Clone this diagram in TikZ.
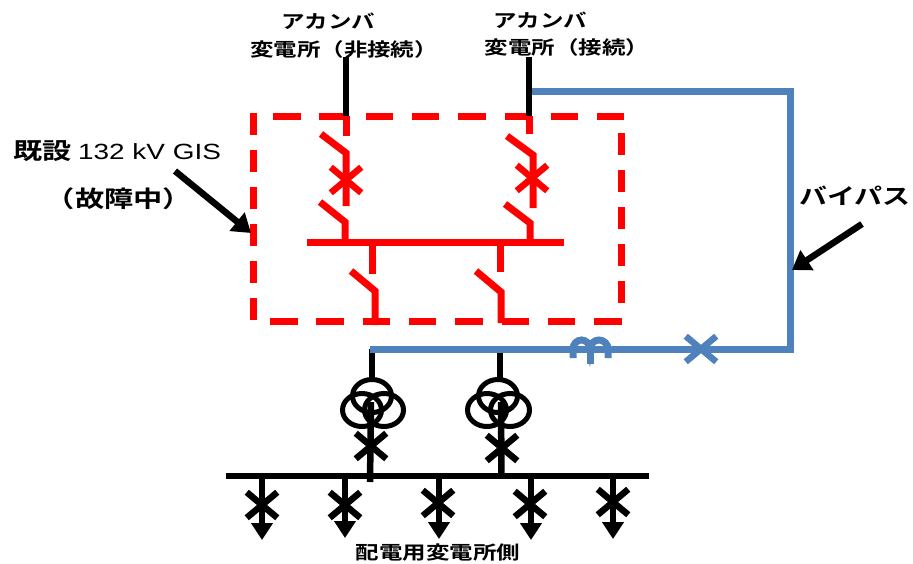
\documentclass[tikz,border=0pt]{standalone}
\usepackage{fontspec}
\newfontfamily\jpfont[FakeStretch=1.27,BoldFont={Noto Sans CJK JP Bold}]{Noto Sans CJK JP}
\newfontfamily\latinfont[FakeStretch=1.27]{Liberation Sans}
\usetikzlibrary{arrows.meta,positioning,shapes.geometric,shapes.misc}

\tikzset{
    redline/.style = {draw=red, line width=7pt},
    blackline/.style = {draw=black, line width=6.5pt},
    blueline/.style = {draw=bluepass, line width=7pt},
    redtop/.style = {redline, dash pattern=on 27.5pt off 18.8pt},
    redside/.style = {redline, dash pattern=on 22pt off 15pt},
    breaker/.style = {cross out, draw, line width=6.5pt, inner sep=0pt, minimum width=24pt, minimum height=19pt},
    winding/.style = {ellipse, draw=black, line width=5pt, inner sep=0pt, minimum width=39pt, minimum height=33pt},
    smalltext/.style = {font=\jpfont\bfseries\fontsize{18.5}{20}\selectfont, inner sep=0pt},
    bigtext/.style = {font=\jpfont\bfseries\fontsize{22}{24}\selectfont, inner sep=0pt},
    feeder/.style = {blackline, -{Triangle[width=21pt,length=17pt]}},
    pointer/.style = {blackline, -{Triangle[width=23pt,length=18pt]}}
}
\definecolor{bluepass}{RGB}{79,129,189}

\begin{document}
\begin{tikzpicture}[x=1pt, y=-1pt]
    \useasboundingbox (0,0) rectangle (913,563);

    % labels
    \node (akanL) [smalltext] at (328,21) {アカンバ};
    \node (akanR) [smalltext] at (540,20) {アカンバ};
    \node (subL) [smalltext] at (344,49) {変電所（非接続）};
    \node (subR) [smalltext] at (567,47) {変電所（接続）};
    \node (gis) [bigtext] at (117,151) {\fontsize{23}{24}\selectfont 既設 {\latinfont\mdseries\fontsize{22}{24}\selectfont 132 kV GIS}};
    \node (fault) [bigtext] at (119,199) {\fontsize{23}{24}\selectfont （故障中）};
    \node (bypass) [bigtext] at (855,196) {バイパス};
    \node (dist) [smalltext] at (438,553) {配電用変電所側};

    % dashed box
    \coordinate (tl) at (273,116);
    \coordinate (tr) at (624,116);
    \coordinate (lt) at (253,113);
    \coordinate (lb) at (253,323);
    \coordinate (bl) at (270,321);
    \coordinate (br) at (622,321);
    \coordinate (rt) at (621,133);
    \coordinate (rb) at (621,306);
    \path [redtop] (tl) -- (tr);
    \path [redtop] (bl) -- (br);
    \path [redside] (lt) -- (lb);
    \path [redside] (rt) -- (rb);

    % upper bays
    \coordinate (inL) at (346,57);
    \coordinate (inR) at (529,57);
    \coordinate (boxL) at (346,116);
    \coordinate (boxR) at (529,116);
    \path [blackline] (inL) -- (boxL);
    \path [blackline] (inR) -- (boxR);
    \coordinate (stubL) at (346,136);
    \coordinate (stubR) at (529,134);
    \path [redline] (boxL) -- (stubL);
    \path [redline] (boxR) -- (stubR);
    \coordinate (bladeL) at (321,134);
    \coordinate (hingeL) at (346,153);
    \coordinate (endL) at (346,206);
    \coordinate (bladeR) at (507,136);
    \coordinate (hingeR) at (533,155);
    \coordinate (endR) at (533,208);
    \path [redline] (bladeL) -- (hingeL) -- (endL);
    \path [redline] (bladeR) -- (hingeR) -- (endR);
    \node (cbL) [breaker, draw=red] at (346,180) {};
    \node (cbR) [breaker, draw=red] at (532,178) {};
    \coordinate (lowL) at (320,202);
    \coordinate (lowHingeL) at (345,222);
    \coordinate (lowEndL) at (345,242);
    \coordinate (lowR) at (505,204);
    \coordinate (lowHingeR) at (530,223);
    \coordinate (lowEndR) at (530,242);
    \path [redline] (lowL) -- (lowHingeL) -- (lowEndL);
    \path [redline] (lowR) -- (lowHingeR) -- (lowEndR);

    % red bus
    \coordinate (busA) at (307,242);
    \coordinate (busB) at (564,242);
    \path [redline] (busA) -- (busB);

    % lower bays
    \coordinate (dropL) at (372,242);
    \coordinate (stopL) at (372,274);
    \coordinate (dropR) at (500,242);
    \coordinate (stopR) at (500,272);
    \path [redline] (dropL) -- (stopL);
    \path [redline] (dropR) -- (stopR);
    \coordinate (armL) at (351,271);
    \coordinate (pivotL) at (375,291);
    \coordinate (footL) at (375,325);
    \coordinate (armR) at (476,271);
    \coordinate (pivotR) at (501,292);
    \coordinate (footR) at (501,323);
    \path [redline] (armL) -- (pivotL) -- (footL);
    \path [redline] (armR) -- (pivotR) -- (footR);

    % transformers
    \coordinate (tapL) at (372,349);
    \coordinate (tapR) at (500,349);
    \coordinate (headL) at (372,380);
    \coordinate (headR) at (500,380);
    \node (trTopL) [winding] at (372,396) {};
    \node (trLeftL) [winding] at (362,410) {};
    \node (trRightL) [winding] at (384,410) {};
    \node (trTopR) [winding] at (498,396) {};
    \node (trLeftR) [winding] at (487,410) {};
    \node (trRightR) [winding] at (510,410) {};
    \path [blackline] (tapL) -- (headL);
    \path [blackline] (tapR) -- (headR);
    \coordinate (coreL) at (371,402);
    \coordinate (coreR) at (501,402);
    \coordinate (mainL) at (370,482);
    \coordinate (mainR) at (501.5,476);
    \path [blackline] (coreL) -- (mainL);
    \path [blackline] (coreR) -- (mainR);
    \node (cbTrL) [breaker] at (371,446) {};
    \node (cbTrR) [breaker] at (502,448) {};

    % black bus and feeders
    \coordinate (mvA) at (226,476);
    \coordinate (mvB) at (649,476);
    \path [blackline] (mvA) -- (mvB);
    \coordinate (f1) at (262,476);
    \coordinate (f2) at (345,476);
    \coordinate (f3) at (439,476);
    \coordinate (f4) at (531,476);
    \coordinate (f5) at (613,476);
    \coordinate (t1) at (262,540);
    \coordinate (t2) at (345,538);
    \coordinate (t3) at (439,539);
    \coordinate (t4) at (531,540);
    \coordinate (t5) at (613,539);
    \path [feeder] (f1) -- (t1);
    \path [feeder] (f2) -- (t2);
    \path [feeder] (f3) -- (t3);
    \path [feeder] (f4) -- (t4);
    \path [feeder] (f5) -- (t5);
    \node (cb1) [breaker] at (262,505) {};
    \node (cb2) [breaker] at (345,505) {};
    \node (cb3) [breaker] at (438,503) {};
    \node (cb4) [breaker] at (530,504) {};
    \node (cb5) [breaker] at (613,502) {};

    % bypass
    \coordinate (pA) at (532,91);
    \coordinate (pB) at (790,91);
    \coordinate (pC) at (790,349);
    \coordinate (pD) at (370,349);
    \path [blueline] (pA) -- (pB) -- (pC) -- (pD);
    \node (cbPass) [breaker, draw=bluepass] at (701,349) {};
    \coordinate (hopA) at (573,358);
    \coordinate (hopB) at (590,364);
    \coordinate (hopC) at (590,345);
    \path [blueline] (hopA) -- ++(0,-9) arc [start angle=180, end angle=0, x radius=8.5pt, y radius=9pt]
        arc [start angle=180, end angle=0, x radius=9pt, y radius=9pt] -- ++(0,9);
    \path [blueline] (hopC) -- (hopB);

    % pointers
    \coordinate (gisFrom) at (175,171);
    \coordinate (gisTo) at (251,233);
    \coordinate (passFrom) at (862,224);
    \coordinate (passTo) at (792,270);
    \path [pointer] (gisFrom) -- (gisTo);
    \path [pointer] (passFrom) -- (passTo);
\end{tikzpicture}
\end{document}
